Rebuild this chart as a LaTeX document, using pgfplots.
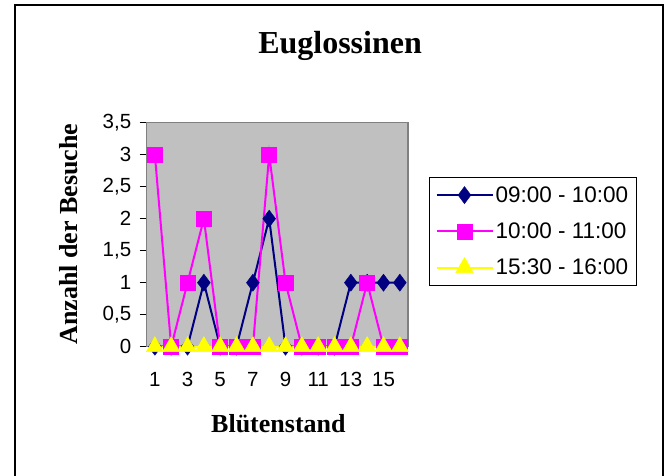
\documentclass[border=0pt]{standalone}
\usepackage{fontspec}
\setmainfont{Liberation Serif}
\newfontfamily\arial{Liberation Sans}
\usepackage{pgfplots}
\pgfplotsset{compat=1.18}
\definecolor{navyx}{HTML}{000080}
\definecolor{magx}{HTML}{FF00FF}
\definecolor{yelx}{HTML}{FFFF00}
\definecolor{plotgray}{HTML}{C0C0C0}
\definecolor{framegray}{HTML}{808080}
\begin{document}
\begin{tikzpicture}
\useasboundingbox (0pt,0pt) rectangle (669pt,476pt);
\draw[black, line width=1.5pt] (15pt,-10pt) rectangle (663pt,471pt);
\begin{axis}[
  at={(146.7pt,129.3pt)}, anchor=south west,
  width=261.3pt, height=224pt, scale only axis,
  xmin=0.5, xmax=16.5, ymin=0, ymax=3.5,
  xtick={1,3,...,15}, ytick={0,0.5,...,3.5},
  ytick pos=left,
  axis background/.style={fill=plotgray},
  axis line style={framegray, line width=1.2pt},
  tick align=outside,
  xtick style={draw=none},
  ytick style={black, line width=0.8pt},
  major tick length=7pt,
  tick label style={font=\arial\fontsize{20.5}{20.5}\selectfont},
  xticklabel style={anchor=base, yshift=-33pt},
  yticklabel style={xshift=-5pt},
  /pgf/number format/assume math mode=true,
  /pgf/number format/use comma,
  clip=false,
  title={Euglossinen},
  xlabel={Blütenstand},
  ylabel={Anzahl der Besuche},
  every axis title/.style={at={(0.74,1.31)}, anchor=base, font=\bfseries\fontsize{32}{32}\selectfont},
  every axis x label/.style={at={(0.504,-0.385)}, anchor=base, font=\bfseries\fontsize{26}{26}\selectfont},
  every axis y label/.style={at={(-0.30,0.503)}, rotate=90, anchor=center, font=\bfseries\fontsize{26}{26}\selectfont},
  legend style={at={(1.080,0.758)}, anchor=north west, draw=black, line width=1.2pt,
    font=\arial\fontsize{22.5}{22.5}\selectfont, row sep=15pt, inner xsep=6pt, inner ysep=7pt,
    cells={anchor=west}},
  legend image code/.code={\draw[mark repeat=2,mark phase=2] plot coordinates {(0pt,0pt) (28pt,0pt) (56pt,0pt)};},
]
\addplot[navyx, line width=2pt, mark=diamond*, mark size=8.5pt, mark options={solid, fill=navyx, draw=navyx, line width=0.5pt}]
  coordinates {(1,0) (2,0) (3,0) (4,1) (5,0) (6,0) (7,1) (8,2) (9,0) (10,0) (11,0) (12,0) (13,1) (14,1) (15,1) (16,1)};
\addlegendentry{09:00 - 10:00}
\addplot[magx, line width=2pt, mark=square*, mark size=7.5pt, mark options={solid, fill=magx, draw=magx, line width=0.5pt}]
  coordinates {(1,3) (2,0) (3,1) (4,2) (5,0) (6,0) (7,0) (8,3) (9,1) (10,0) (11,0) (12,0) (13,0) (14,1) (15,0) (16,0)};
\addlegendentry{10:00 - 11:00}
\addplot[yelx, line width=2pt, mark=triangle*, mark size=10pt, mark options={solid, fill=yelx, draw=yelx, line width=0.5pt}]
  coordinates {(1,0) (2,0) (3,0) (4,0) (5,0) (6,0) (7,0) (8,0) (9,0) (10,0) (11,0) (12,0) (13,0) (14,0) (15,0) (16,0)};
\addlegendentry{15:30 - 16:00}
\end{axis}
\end{tikzpicture}
\end{document}
